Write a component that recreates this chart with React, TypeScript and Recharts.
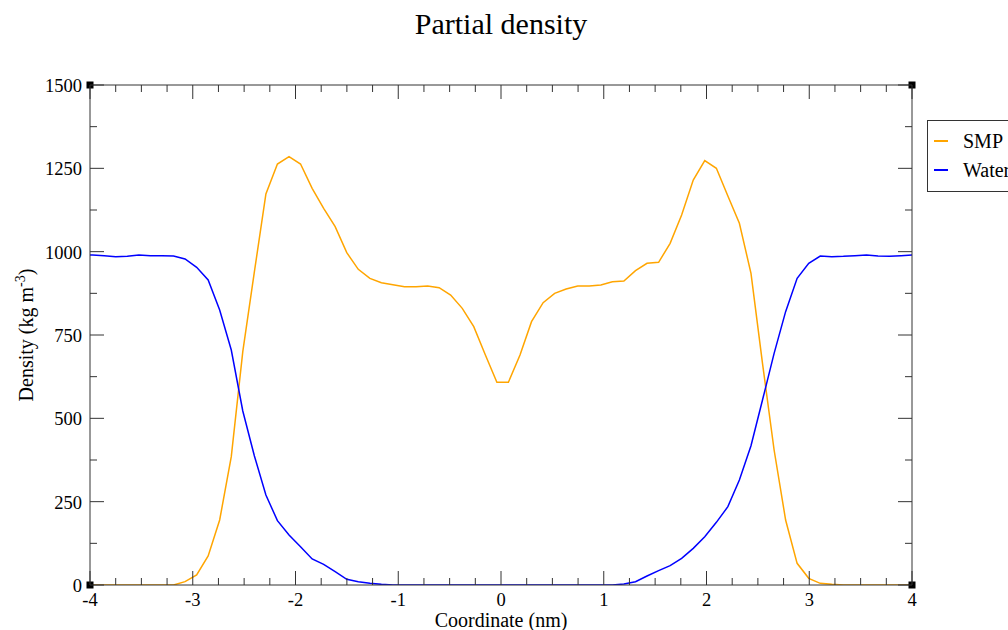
import React from 'react';
import { LineChart, Line, XAxis, YAxis, Legend, ReferenceDot, Label } from 'recharts';

// Bin centres along the box normal (nm)
const coordinate = [
  -4.086, -3.974, -3.862, -3.749, -3.637, -3.524, -3.412, -3.3, -3.187, -3.075,
  -2.962, -2.85, -2.738, -2.625, -2.513, -2.4, -2.288, -2.176, -2.063, -1.951,
  -1.838, -1.726, -1.614, -1.501, -1.389, -1.276, -1.164, -1.052, -0.939, -0.827,
  -0.714, -0.602, -0.49, -0.377, -0.265, -0.152, -0.04, 0.072, 0.185, 0.297,
  0.41, 0.522, 0.634, 0.747, 0.859, 0.972, 1.084, 1.196, 1.309, 1.421,
  1.534, 1.646, 1.758, 1.871, 1.983, 2.096, 2.208, 2.32, 2.433, 2.545,
  2.658, 2.77, 2.882, 2.995, 3.107, 3.22, 3.332, 3.444, 3.557, 3.669,
  3.782, 3.894, 4.006,
];

// SMP partial density (kg m^-3)
const smp = [
  0, 0, 0, 0, 0, 0, 0, 0, 0, 10,
  30, 87, 195, 385, 700, 940, 1173, 1263, 1285, 1263,
  1190, 1130, 1075, 997, 947, 920, 907, 901, 895, 895,
  897, 892, 870, 830, 775, 690, 608, 608, 690, 790,
  847, 875, 888, 897, 897, 900, 910, 912, 943, 965,
  968, 1025, 1110, 1215, 1273, 1250, 1167, 1085, 935, 665,
  405, 195, 65, 20, 5, 2, 0, 0, 0, 0,
  0, 0, 0,
];

// Water partial density (kg m^-3)
const water = [
  990, 990, 988, 985, 986, 990, 988, 988, 987, 978,
  953, 915, 825, 705, 522, 387, 270, 193, 150, 115,
  78, 62, 40, 17, 10, 5, 2, 0, 0, 0,
  0, 0, 0, 0, 0, 0, 0, 0, 0, 0,
  0, 0, 0, 0, 0, 0, 0, 3, 10, 27,
  43, 58, 80, 110, 145, 188, 235, 315, 418, 555,
  695, 820, 920, 965, 987, 985, 986, 988, 990, 987,
  986, 988, 990,
];

const xTicks = [
  -4, -3.75, -3.5, -3.25, -3, -2.75, -2.5, -2.25, -2, -1.75, -1.5, -1.25, -1,
  -0.75, -0.5, -0.25, 0, 0.25, 0.5, 0.75, 1, 1.25, 1.5, 1.75, 2, 2.25, 2.5,
  2.75, 3, 3.25, 3.5, 3.75, 4,
];
const yTicks = [0, 125, 250, 375, 500, 625, 750, 875, 1000, 1125, 1250, 1375, 1500];

const series = [
  { key: 'smp', name: 'SMP', color: '#FFA500' },
  { key: 'water', name: 'Water', color: '#0000FF' },
];

const rows = coordinate.map((x, i) => ({ x, smp: smp[i], water: water[i] }));

const FONT = '"Liberation Serif", "Times New Roman", serif';
const AXIS = '#333';
const MAJOR_LEN = 14;
const MINOR_LEN = 7;

const isMajorX = (v: number) => Number.isInteger(v);
const isMajorY = (v: number) => v % 250 === 0;

type Side = 'bottom' | 'top' | 'left' | 'right';

// Inward-pointing tick marks (xmgrace style), with labels on bottom/left only
function makeTick(side: Side, isMajor: (v: number) => boolean, withLabel: boolean) {
  return (props: any) => {
    const { x, y, payload } = props;
    const v = payload.value as number;
    const len = isMajor(v) ? MAJOR_LEN : MINOR_LEN;
    let x2 = x;
    let y2 = y;
    if (side === 'bottom') y2 = y - len;
    if (side === 'top') y2 = y + len;
    if (side === 'left') x2 = x + len;
    if (side === 'right') x2 = x - len;
    let label = null;
    if (withLabel && isMajor(v)) {
      if (side === 'bottom') {
        label = (
          <text x={x} y={y + 20.5} textAnchor="middle" fontFamily={FONT} fontSize={18.5} fill="#000">
            {String(v)}
          </text>
        );
      } else if (side === 'left') {
        label = (
          <text x={x - 8} y={y + 7} textAnchor="end" fontFamily={FONT} fontSize={18.5} fill="#000">
            {String(v)}
          </text>
        );
      }
    }
    return (
      <g>
        <line x1={x} y1={y} x2={x2} y2={y2} stroke={AXIS} strokeWidth={1} />
        {label}
      </g>
    );
  };
}

const cornerSquare = (props: any) => (
  <rect x={props.cx - 3.5} y={props.cy - 3.5} width={7} height={7} fill="#000" />
);

const LegendBox = () => (
  <div
    style={{
      boxSizing: 'border-box',
      width: 120,
      height: 72,
      border: `1px solid ${AXIS}`,
      background: '#fff',
      paddingTop: 5,
      fontFamily: FONT,
      fontSize: 20,
      color: '#000',
    }}
  >
    {series.map((s) => (
      <div key={s.key} style={{ height: 29, display: 'flex', alignItems: 'center' }}>
        <span
          style={{
            display: 'inline-block',
            marginLeft: 6,
            width: 14,
            height: 2,
            background: s.color,
          }}
        />
        <span style={{ marginLeft: 15, lineHeight: 1 }}>{s.name}</span>
      </div>
    ))}
  </div>
);

export default function App() {
  return (
    <div
      style={{
        position: 'absolute',
        left: 0,
        top: 0,
        width: 1008,
        height: 630,
        overflow: 'hidden',
        background: '#fff',
      }}
    >
      <LineChart
        width={1008}
        height={630}
        data={rows}
        margin={{ top: 84, right: 95, bottom: 44, left: 89 }}
      >
        <text x={501} y={34} textAnchor="middle" fontFamily={FONT} fontSize={30} fill="#000">
          Partial density
        </text>
        <XAxis
          xAxisId="bottom"
          dataKey="x"
          type="number"
          domain={[-4, 4]}
          allowDataOverflow
          ticks={xTicks}
          interval={0}
          height={1}
          tickSize={0}
          tickMargin={0}
          axisLine={{ stroke: AXIS, strokeWidth: 1 }}
          tickLine={false}
          tick={makeTick('bottom', isMajorX, true)}
        >
          <Label
            content={(p: any) => {
              const vb = p.viewBox || { x: 90, y: 585, width: 822 };
              return (
                <text x={vb.x + vb.width / 2} y={vb.y + 42} textAnchor="middle" fontFamily={FONT} fontSize={20} fill="#000">
                  Coordinate (nm)
                </text>
              );
            }}
          />
        </XAxis>
        <XAxis
          xAxisId="top"
          orientation="top"
          dataKey="x"
          type="number"
          domain={[-4, 4]}
          allowDataOverflow
          ticks={xTicks}
          interval={0}
          height={1}
          tickSize={0}
          tickMargin={0}
          axisLine={{ stroke: AXIS, strokeWidth: 1 }}
          tickLine={false}
          tick={makeTick('top', isMajorX, false)}
        />
        <YAxis
          yAxisId="left"
          type="number"
          domain={[0, 1500]}
          allowDataOverflow
          ticks={yTicks}
          interval={0}
          width={1}
          tickSize={0}
          tickMargin={0}
          axisLine={{ stroke: AXIS, strokeWidth: 1 }}
          tickLine={false}
          tick={makeTick('left', isMajorY, true)}
        >
          <Label
            content={(p: any) => {
              const vb = p.viewBox || { x: 90, y: 85, height: 500 };
              const cy = vb.y + vb.height / 2;
              const cx = 33;
              return (
                <text
                  x={cx}
                  y={cy}
                  transform={`rotate(-90 ${cx} ${cy})`}
                  textAnchor="middle"
                  fontFamily={FONT}
                  fontSize={20}
                  fill="#000"
                >
                  <tspan>Density (kg m</tspan>
                  <tspan fontSize={14} dy={-8}>-3</tspan>
                  <tspan dy={8}>)</tspan>
                </text>
              );
            }}
          />
        </YAxis>
        <YAxis
          yAxisId="right"
          orientation="right"
          type="number"
          domain={[0, 1500]}
          allowDataOverflow
          ticks={yTicks}
          interval={0}
          width={1}
          tickSize={0}
          tickMargin={0}
          axisLine={{ stroke: AXIS, strokeWidth: 1 }}
          tickLine={false}
          tick={makeTick('right', isMajorY, false)}
        />
        {series.map((s) => (
          <Line
            key={s.key}
            xAxisId="bottom"
            yAxisId="left"
            type="linear"
            dataKey={s.key}
            name={s.name}
            stroke={s.color}
            strokeWidth={1.5}
            dot={false}
            activeDot={false}
            isAnimationActive={false}
          />
        ))}
        <ReferenceDot xAxisId="bottom" yAxisId="left" x={-4} y={0} ifOverflow="visible" shape={cornerSquare} />
        <ReferenceDot xAxisId="bottom" yAxisId="left" x={-4} y={1500} ifOverflow="visible" shape={cornerSquare} />
        <ReferenceDot xAxisId="bottom" yAxisId="left" x={4} y={0} ifOverflow="visible" shape={cornerSquare} />
        <ReferenceDot xAxisId="bottom" yAxisId="left" x={4} y={1500} ifOverflow="visible" shape={cornerSquare} />
        <Legend
          layout="vertical"
          align="center"
          verticalAlign="middle"
          wrapperStyle={{ left: 927, top: 120, width: 120 }}
          content={() => <LegendBox />}
        />
      </LineChart>
    </div>
  );
}
